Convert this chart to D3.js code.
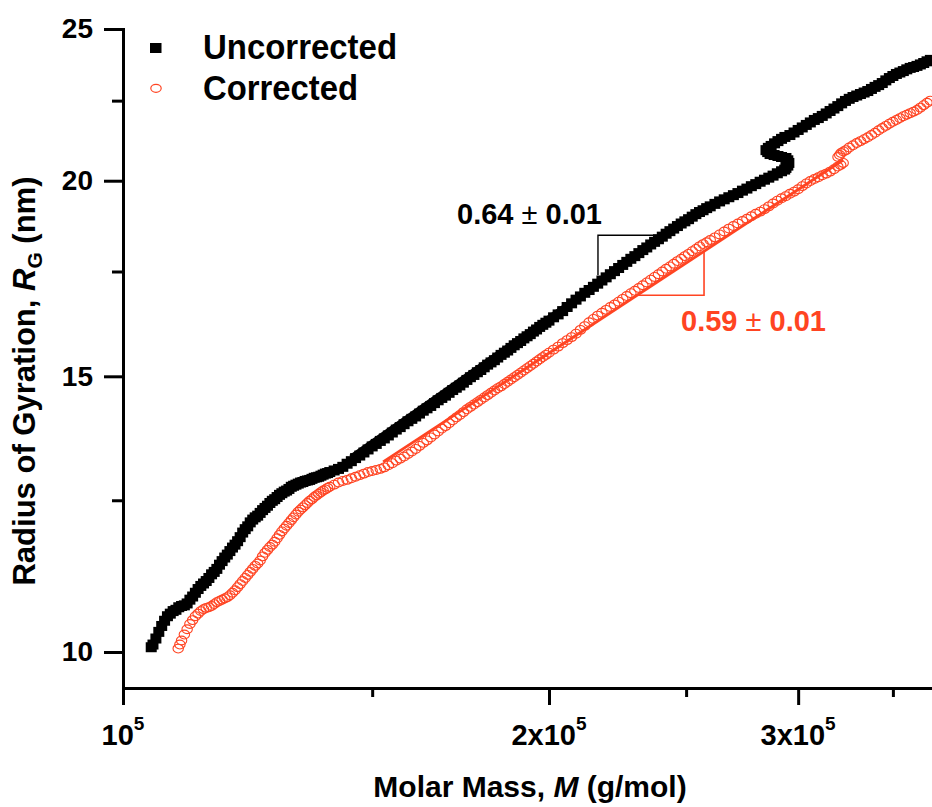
<!DOCTYPE html>
<html><head><meta charset="utf-8">
<script src="https://cdn.jsdelivr.net/npm/d3@7"></script>
<style>
html,body{margin:0;padding:0;background:#fff;}
svg{display:block;}
</style></head><body>
<svg id="chart" width="932" height="807"></svg>
<script>
// ---------- data ----------
const massUncorrected = [1.047e5,1.05e5,1.055e5,1.06e5,1.065e5,1.07e5,1.075e5,1.08e5,1.085e5,1.09e5,1.095e5,1.10e5,1.105e5,1.11e5,1.115e5,1.12e5,1.125e5,1.13e5,1.135e5,1.14e5,1.145e5,1.15e5,1.155e5,1.16e5,1.165e5,1.17e5,1.175e5,1.18e5,1.185e5,1.19e5,1.195e5,1.20e5,1.205e5,1.21e5,1.215e5,1.22e5,1.225e5,1.23e5,1.235e5,1.24e5,1.245e5,1.25e5,1.255e5,1.26e5,1.265e5,1.27e5,1.275e5,1.28e5,1.285e5,1.29e5,1.295e5,1.30e5,1.305e5,1.31e5,1.315e5,1.32e5,1.325e5,1.33e5,1.335e5,1.34e5,1.345e5,1.35e5,1.355e5,1.36e5,1.365e5,1.37e5,1.375e5,1.38e5,1.385e5,1.39e5,1.395e5,1.40e5,1.41e5,1.42e5,1.43e5,1.44e5,1.45e5,1.46e5,1.47e5,1.48e5,1.49e5,1.50e5,1.51e5,1.52e5,1.53e5,1.54e5,1.55e5,1.56e5,1.57e5,1.58e5,1.59e5,1.60e5,1.61e5,1.62e5,1.63e5,1.64e5,1.65e5,1.66e5,1.67e5,1.68e5,1.69e5,1.70e5,1.71e5,1.72e5,1.73e5,1.74e5,1.75e5,1.76e5,1.77e5,1.78e5,1.79e5,1.80e5,1.81e5,1.82e5,1.83e5,1.84e5,1.85e5,1.86e5,1.87e5,1.88e5,1.89e5,1.90e5,1.91e5,1.92e5,1.93e5,1.94e5,1.95e5,1.96e5,1.97e5,1.98e5,1.99e5,2.00e5,2.015e5,2.03e5,2.045e5,2.06e5,2.075e5,2.09e5,2.105e5,2.12e5,2.135e5,2.15e5,2.165e5,2.18e5,2.195e5,2.21e5,2.225e5,2.24e5,2.255e5,2.27e5,2.285e5,2.30e5,2.315e5,2.33e5,2.345e5,2.36e5,2.375e5,2.39e5,2.405e5,2.42e5,2.435e5,2.45e5,2.465e5,2.48e5,2.495e5,2.51e5,2.525e5,2.54e5,2.555e5,2.57e5,2.585e5,2.60e5,2.62e5,2.64e5,2.66e5,2.68e5,2.70e5,2.72e5,2.74e5,2.76e5,2.78e5,2.80e5,2.82e5,2.84e5,2.86e5,2.88e5,2.90e5,2.92e5,2.935e5,2.941e5,2.950e5,2.955e5,2.950e5,2.941e5,2.920e5,2.903e5,2.885e5,2.866e5,2.855e5,2.847e5,2.858e5,2.871e5,2.887e5,2.903e5,2.920e5,2.936e5,2.96e5,2.98e5,3.00e5,3.02e5,3.04e5,3.06e5,3.08e5,3.10e5,3.12e5,3.14e5,3.16e5,3.18e5,3.20e5,3.22e5,3.24e5,3.26e5,3.28e5,3.30e5,3.32e5,3.34e5,3.36e5,3.38e5,3.40e5,3.42e5,3.44e5,3.46e5,3.48e5,3.50e5,3.52e5,3.54e5,3.56e5,3.58e5,3.60e5,3.62e5,3.64e5,3.66e5,3.68e5,3.70e5,3.72e5];
const rgUncorrected = [10.07,10.11,10.20,10.30,10.39,10.47,10.54,10.58,10.62,10.64,10.68,10.70,10.71,10.74,10.80,10.85,10.91,10.97,11.02,11.06,11.10,11.15,11.21,11.25,11.30,11.37,11.43,11.49,11.54,11.60,11.66,11.71,11.77,11.84,11.92,11.98,12.03,12.10,12.15,12.19,12.22,12.27,12.32,12.36,12.40,12.45,12.49,12.52,12.56,12.60,12.63,12.66,12.68,12.71,12.75,12.77,12.79,12.81,12.83,12.84,12.86,12.87,12.88,12.90,12.92,12.93,12.94,12.96,12.98,13.00,13.01,13.03,13.06,13.09,13.13,13.19,13.24,13.30,13.35,13.41,13.47,13.53,13.58,13.64,13.69,13.75,13.81,13.87,13.92,13.98,14.04,14.09,14.14,14.20,14.26,14.31,14.36,14.42,14.48,14.53,14.58,14.64,14.70,14.75,14.80,14.86,14.92,14.98,15.03,15.09,15.14,15.20,15.26,15.31,15.36,15.42,15.48,15.53,15.58,15.64,15.70,15.75,15.80,15.86,15.91,15.96,16.02,16.07,16.13,16.18,16.23,16.28,16.36,16.43,16.51,16.61,16.70,16.79,16.87,16.96,17.03,17.11,17.19,17.27,17.35,17.43,17.51,17.59,17.67,17.75,17.83,17.90,17.98,18.06,18.13,18.21,18.28,18.35,18.42,18.50,18.57,18.64,18.71,18.78,18.84,18.90,18.97,19.04,19.10,19.15,19.21,19.26,19.33,19.40,19.46,19.52,19.58,19.64,19.71,19.77,19.84,19.90,19.97,20.03,20.09,20.15,20.22,20.28,20.33,20.38,20.45,20.53,20.61,20.68,20.71,20.74,20.77,20.80,20.86,20.92,20.99,21.05,21.13,21.20,21.27,21.33,21.39,21.47,21.55,21.63,21.71,21.79,21.87,21.93,22.00,22.08,22.16,22.24,22.32,22.41,22.49,22.56,22.62,22.67,22.72,22.77,22.82,22.89,22.96,23.02,23.09,23.18,23.26,23.33,23.40,23.45,23.50,23.56,23.61,23.64,23.68,23.73,23.78,23.84,23.89];

const massCorrected = [1.094e5,1.097e5,1.10e5,1.105e5,1.11e5,1.115e5,1.12e5,1.125e5,1.13e5,1.135e5,1.14e5,1.145e5,1.15e5,1.155e5,1.16e5,1.165e5,1.17e5,1.175e5,1.18e5,1.185e5,1.19e5,1.195e5,1.20e5,1.205e5,1.21e5,1.215e5,1.22e5,1.225e5,1.23e5,1.235e5,1.24e5,1.245e5,1.25e5,1.255e5,1.26e5,1.265e5,1.27e5,1.275e5,1.28e5,1.285e5,1.29e5,1.295e5,1.30e5,1.305e5,1.31e5,1.315e5,1.32e5,1.325e5,1.33e5,1.335e5,1.34e5,1.345e5,1.35e5,1.355e5,1.36e5,1.365e5,1.37e5,1.375e5,1.38e5,1.385e5,1.39e5,1.395e5,1.40e5,1.41e5,1.42e5,1.43e5,1.44e5,1.45e5,1.46e5,1.47e5,1.48e5,1.49e5,1.50e5,1.51e5,1.52e5,1.53e5,1.54e5,1.55e5,1.56e5,1.57e5,1.58e5,1.59e5,1.60e5,1.61e5,1.62e5,1.63e5,1.64e5,1.65e5,1.66e5,1.67e5,1.68e5,1.69e5,1.70e5,1.71e5,1.72e5,1.73e5,1.74e5,1.75e5,1.76e5,1.77e5,1.78e5,1.79e5,1.80e5,1.81e5,1.82e5,1.83e5,1.84e5,1.85e5,1.86e5,1.87e5,1.88e5,1.89e5,1.90e5,1.91e5,1.92e5,1.93e5,1.94e5,1.95e5,1.96e5,1.97e5,1.98e5,1.99e5,2.00e5,2.015e5,2.03e5,2.045e5,2.06e5,2.075e5,2.09e5,2.105e5,2.12e5,2.135e5,2.15e5,2.165e5,2.18e5,2.195e5,2.21e5,2.225e5,2.24e5,2.255e5,2.27e5,2.285e5,2.30e5,2.315e5,2.33e5,2.345e5,2.36e5,2.375e5,2.39e5,2.405e5,2.42e5,2.435e5,2.45e5,2.465e5,2.48e5,2.495e5,2.51e5,2.525e5,2.54e5,2.555e5,2.57e5,2.585e5,2.60e5,2.62e5,2.64e5,2.66e5,2.68e5,2.70e5,2.72e5,2.74e5,2.76e5,2.78e5,2.80e5,2.82e5,2.84e5,2.86e5,2.88e5,2.90e5,2.92e5,2.94e5,2.96e5,2.98e5,3.00e5,3.02e5,3.04e5,3.06e5,3.08e5,3.10e5,3.12e5,3.14e5,3.16e5,3.18e5,3.20e5,3.215e5,3.228e5,3.201e5,3.21e5,3.217e5,3.23e5,3.243e5,3.26e5,3.28e5,3.30e5,3.32e5,3.34e5,3.36e5,3.38e5,3.40e5,3.42e5,3.44e5,3.46e5,3.48e5,3.50e5,3.52e5,3.54e5,3.56e5,3.58e5,3.60e5,3.62e5,3.64e5,3.66e5,3.68e5,3.70e5,3.72e5];
const rgCorrected = [10.05,10.11,10.17,10.26,10.34,10.42,10.48,10.54,10.58,10.62,10.65,10.67,10.68,10.70,10.73,10.76,10.78,10.80,10.82,10.84,10.87,10.91,10.95,11.00,11.05,11.10,11.15,11.20,11.25,11.30,11.35,11.39,11.44,11.51,11.57,11.62,11.67,11.71,11.76,11.82,11.88,11.94,11.99,12.04,12.09,12.14,12.19,12.24,12.29,12.33,12.37,12.41,12.45,12.49,12.52,12.56,12.59,12.62,12.65,12.68,12.70,12.73,12.75,12.79,12.83,12.86,12.88,12.91,12.94,12.97,13.00,13.03,13.05,13.07,13.09,13.12,13.16,13.20,13.25,13.29,13.33,13.38,13.43,13.48,13.54,13.60,13.65,13.71,13.77,13.83,13.89,13.94,14.00,14.06,14.12,14.17,14.23,14.29,14.34,14.39,14.44,14.49,14.54,14.59,14.64,14.69,14.74,14.78,14.83,14.88,14.93,14.98,15.03,15.08,15.13,15.18,15.23,15.28,15.33,15.38,15.43,15.48,15.53,15.60,15.67,15.75,15.82,15.89,15.97,16.06,16.15,16.24,16.32,16.40,16.47,16.54,16.61,16.67,16.74,16.81,16.88,16.95,17.01,17.08,17.15,17.22,17.29,17.36,17.43,17.50,17.57,17.63,17.70,17.77,17.83,17.90,17.96,18.03,18.09,18.16,18.22,18.27,18.33,18.40,18.48,18.56,18.64,18.71,18.78,18.85,18.91,18.98,19.05,19.11,19.18,19.26,19.34,19.42,19.49,19.55,19.62,19.68,19.75,19.84,19.92,19.99,20.05,20.10,20.16,20.21,20.27,20.34,20.42,20.47,20.53,20.71,20.77,20.83,20.88,20.92,21.00,21.07,21.14,21.20,21.26,21.32,21.39,21.46,21.54,21.61,21.68,21.75,21.81,21.87,21.93,21.99,22.04,22.09,22.14,22.19,22.27,22.35,22.43,22.50];

// power-law fits (slopes 0.64 and 0.59)
const fitMassUncorrected = [1.447e5, 2.557e5];
const fitRgUncorrected   = [13.342, 19.16];
const fitMassCorrected   = [1.527e5, 3.228e5];
const fitRgCorrected     = [13.225, 20.62];
// slope triangles
const triMassUncorrected = [2.166e5, 2.166e5, 2.384e5];
const triRgUncorrected   = [17.41, 18.46, 18.46];
const triMassCorrected   = [2.308e5, 2.574e5, 2.574e5];
const triRgCorrected     = [16.90, 16.90, 18.03];
const slopeLabels = ["0.64", "0.59"];
const slopeErrors = ["0.01", "0.01"];

// axes ticks
const xMajorTicks = [1e5, 2e5, 3e5];
const xMinorTicks = [1.5e5, 2.5e5, 3.5e5];
const xTickBase = ["10", "2x10", "3x10"];
const xTickExp = ["5", "5", "5"];
const yMajorTicks = [10, 15, 20, 25];
const yMinorTicks = [12.5, 17.5, 22.5];
const seriesNames = ["Uncorrected", "Corrected"];

// ---------- drawing ----------
const RED = "#ff4422";
const FONT = "'Liberation Sans', Arial, Helvetica, sans-serif";
const svg = d3.select("#chart");
svg.attr("font-family", FONT).attr("font-weight", "bold");

const x = d3.scaleLog().domain([1e5, 3.73e5]).range([123, 932]);
const y = d3.scaleLog().domain([9.484, 25]).range([688, 29]);

svg.append("defs").append("clipPath").attr("id", "plotclip")
  .append("rect").attr("x", 123).attr("y", 0).attr("width", 809).attr("height", 688);

// y axis
const gy = svg.append("g").attr("transform", "translate(123,0)")
  .call(d3.axisLeft(y).tickValues(yMajorTicks).tickSize(19).tickSizeOuter(0)
        .tickPadding(11).tickFormat(d3.format("d")));
gy.attr("font-family", FONT).attr("font-size", 28).attr("font-weight", "bold");
gy.select(".domain").attr("stroke", "#000").attr("stroke-width", 3).attr("stroke-linecap", "square");
gy.selectAll(".tick line").attr("stroke", "#000").attr("stroke-width", 3);
gy.selectAll(".tick text").attr("fill", "#000");

const gym = svg.append("g").attr("transform", "translate(123,0)")
  .call(d3.axisLeft(y).tickValues(yMinorTicks).tickSize(11).tickFormat(""));
gym.select(".domain").remove();
gym.selectAll(".tick line").attr("stroke", "#000").attr("stroke-width", 3);

// x axis
const gx = svg.append("g").attr("transform", "translate(0,688)")
  .call(d3.axisBottom(x).tickValues(xMajorTicks).tickSize(17).tickSizeOuter(0).tickFormat(""));
gx.select(".domain").attr("stroke", "#000").attr("stroke-width", 3).attr("stroke-linecap", "square");
gx.selectAll(".tick line").attr("stroke", "#000").attr("stroke-width", 3);

const gxm = svg.append("g").attr("transform", "translate(0,688)")
  .call(d3.axisBottom(x).tickValues(xMinorTicks).tickSize(9).tickFormat(""));
gxm.select(".domain").remove();
gxm.selectAll(".tick line").attr("stroke", "#000").attr("stroke-width", 3);

// x tick labels with superscript
const xl = svg.append("g").selectAll("text").data(xMajorTicks).join("text")
  .attr("x", d => x(d)).attr("y", 745).attr("text-anchor", "middle")
  .attr("font-size", 29).attr("fill", "#000");
xl.append("tspan").text((d, i) => xTickBase[i]);
xl.append("tspan").attr("font-size", 19).attr("dy", -15).text((d, i) => xTickExp[i]);

// axis titles
const xt = svg.append("text").attr("x", 530).attr("y", 797).attr("text-anchor", "middle")
  .attr("font-size", 30).attr("fill", "#000");
xt.append("tspan").text("Molar Mass, ");
xt.append("tspan").attr("font-style", "italic").text("M");
xt.append("tspan").text(" (g/mol)");

const yt = svg.append("text").attr("transform", "translate(35,381) rotate(-90)")
  .attr("text-anchor", "middle").attr("font-size", 31).attr("fill", "#000");
yt.append("tspan").text("Radius of Gyration, ");
yt.append("tspan").attr("font-style", "italic").text("R");
yt.append("tspan").attr("font-size", 21).attr("dy", 7).text("G");
yt.append("tspan").attr("dy", -7).text(" (nm)");

// data
const plot = svg.append("g").attr("clip-path", "url(#plotclip)");
plot.append("g").selectAll("rect").data(d3.range(massUncorrected.length)).join("rect")
  .attr("x", i => x(massUncorrected[i]) - 5.5)
  .attr("y", i => y(rgUncorrected[i]) - 5)
  .attr("width", 11).attr("height", 10).attr("fill", "#000");

plot.append("g").selectAll("ellipse").data(d3.range(massCorrected.length)).join("ellipse")
  .attr("cx", i => x(massCorrected[i]))
  .attr("cy", i => y(rgCorrected[i]))
  .attr("rx", 5.2).attr("ry", 4.4)
  .attr("fill", "none").attr("stroke", RED).attr("stroke-width", 1.1);

// fit lines
const line = d3.line().x(d => x(d[0])).y(d => y(d[1]));
plot.append("path").attr("d", line(d3.zip(fitMassUncorrected, fitRgUncorrected)))
  .attr("fill", "none").attr("stroke", "#000").attr("stroke-width", 2.5);
plot.append("path").attr("d", line(d3.zip(fitMassCorrected, fitRgCorrected)))
  .attr("fill", "none").attr("stroke", RED).attr("stroke-width", 2.8);

// slope triangles
svg.append("path").attr("d", line(d3.zip(triMassUncorrected, triRgUncorrected)))
  .attr("fill", "none").attr("stroke", "#000").attr("stroke-width", 1.4);
svg.append("path").attr("d", line(d3.zip(triMassCorrected, triRgCorrected)))
  .attr("fill", "none").attr("stroke", RED).attr("stroke-width", 1.6);

// slope labels
function slopeText(sel, i) {
  sel.append("tspan").text(slopeLabels[i] + " ");
  sel.append("tspan").attr("font-weight", "normal").text("\u00B1");
  sel.append("tspan").text(" " + slopeErrors[i]);
}
const t1 = svg.append("text").attr("x", x(triMassUncorrected[0]) + 4)
  .attr("y", y(triRgUncorrected[1]) - 11).attr("text-anchor", "end")
  .attr("font-size", 29).attr("fill", "#000");
slopeText(t1, 0);
const t2 = svg.append("text").attr("x", x(triMassCorrected[1]) - 23)
  .attr("y", y(triRgCorrected[0]) + 36).attr("text-anchor", "start")
  .attr("font-size", 29).attr("fill", RED);
slopeText(t2, 1);

// legend
const lg = svg.append("g");
lg.append("rect").attr("x", 150).attr("y", 43).attr("width", 11.5).attr("height", 10).attr("fill", "#000");
lg.append("ellipse").attr("cx", 156).attr("cy", 88.3).attr("rx", 5.2).attr("ry", 4)
  .attr("fill", "none").attr("stroke", RED).attr("stroke-width", 1.2);
lg.append("text").attr("x", 203).attr("y", 59).attr("font-size", 35)
  .attr("textLength", 194).attr("lengthAdjust", "spacingAndGlyphs").attr("fill", "#000").text(seriesNames[0]);
lg.append("text").attr("x", 203).attr("y", 100).attr("font-size", 35)
  .attr("textLength", 155).attr("lengthAdjust", "spacingAndGlyphs").attr("fill", "#000").text(seriesNames[1]);
</script>
</body></html>
